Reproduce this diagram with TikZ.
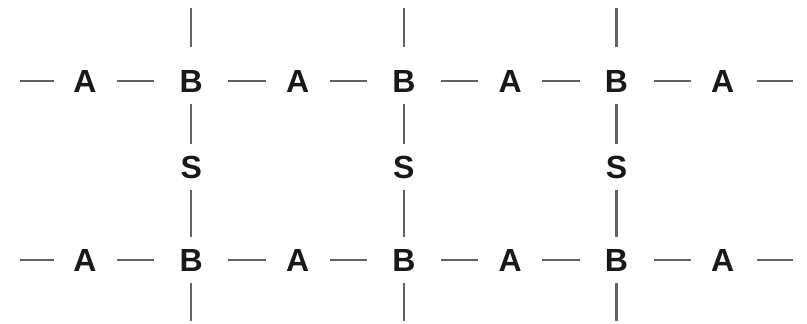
\documentclass[tikz,border=0pt]{standalone}
\usepackage{fontspec}
\setmainfont{Liberation Sans}
\begin{document}
\begin{tikzpicture}[x=1pt,y=-1pt,
  atom/.style={inner sep=0pt,text=black!90,font=\fontsize{32}{38}\selectfont\bfseries},
  bond/.style={draw=black!62,line width=2.1pt},
  hA/.style={shorten <=32pt,shorten >=37pt},
  hB/.style={shorten <=37pt,shorten >=32pt},
  vv/.style={shorten <=23pt,shorten >=23pt}]
\useasboundingbox (0,0) rectangle (807,324);
\def\dx{106.3}
\foreach \i/\t in {0/A,1/B,2/A,3/B,4/A,5/B,6/A}{
  \node[atom] (t\i) at ({85+\dx*\i},81) {\t};
  \node[atom] (b\i) at ({85+\dx*\i},260) {\t};
}
\foreach \i in {1,3,5}{
  \node[atom] (s\i) at ({85+\dx*\i},167) {S};
  \coordinate (up\i) at ({85+\dx*\i},8);
  \coordinate (dn\i) at ({85+\dx*\i},321);
  \draw[bond,shorten <=34pt] (t\i.center) -- (up\i);
  \draw[bond,shorten <=23pt] (b\i.center) -- (dn\i);
  \draw[bond,vv] (t\i.center) -- (s\i.center);
  \draw[bond,vv] (s\i.center) -- (b\i.center);
}
\foreach \r in {t,b}{
  \draw[bond,hA] (\r0.center) -- (\r1.center);
  \draw[bond,hB] (\r1.center) -- (\r2.center);
  \draw[bond,hA] (\r2.center) -- (\r3.center);
  \draw[bond,hB] (\r3.center) -- (\r4.center);
  \draw[bond,hA] (\r4.center) -- (\r5.center);
  \draw[bond,hB] (\r5.center) -- (\r6.center);
}
\coordinate (tl) at (20,81); \coordinate (tr) at (793,81);
\coordinate (bl) at (20,260); \coordinate (br) at (793,260);
\draw[bond,shorten <=31pt] (t0.center) -- (tl);
\draw[bond,shorten <=34pt] (t6.center) -- (tr);
\draw[bond,shorten <=31pt] (b0.center) -- (bl);
\draw[bond,shorten <=34pt] (b6.center) -- (br);
\end{tikzpicture}
\end{document}
